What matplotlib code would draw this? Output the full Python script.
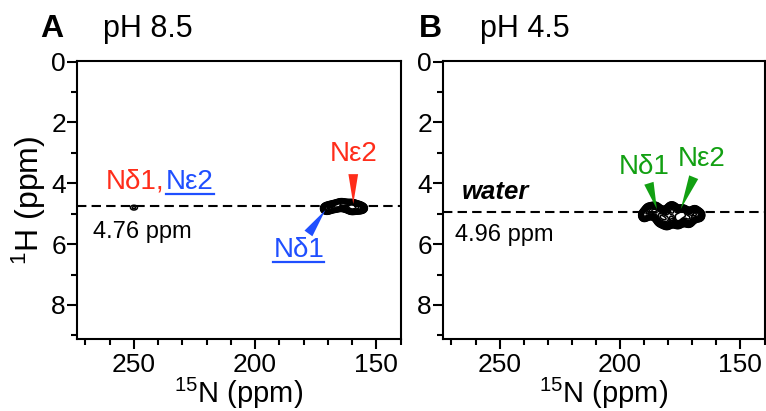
import numpy as np
import matplotlib
import matplotlib.pyplot as plt
from matplotlib.lines import Line2D

plt.rcParams['font.family'] = ['Liberation Sans', 'DejaVu Sans']
plt.rcParams['mathtext.fontset'] = 'custom'
plt.rcParams['mathtext.rm'] = 'Liberation Sans'

# --- data: peak lists (15N ppm, 1H ppm, relative height, widths) ---
peaksA_N = [250.0, 170.5, 168.5, 166.5, 164.5, 162.5, 160.0, 157.5, 155.8]
peaksA_H = [4.80, 4.83, 4.78, 4.75, 4.70, 4.74, 4.78, 4.80, 4.82]
peaksA_I = [0.062, 0.45, 0.35, 0.40, 0.45, 0.55, 1.00, 0.55, 0.30]
peaksA_wN = [2.2, 1.2, 1.2, 1.2, 1.2, 1.2, 1.3, 1.2, 1.1]
peaksA_wH = [0.12, 0.09, 0.09, 0.09, 0.09, 0.09, 0.10, 0.09, 0.08]

peaksB_N = [190.0, 188.0, 185.5, 183.0, 180.5, 178.5, 176.0, 174.0, 171.5, 169.0, 167.0]
peaksB_H = [5.05, 4.92, 4.90, 5.10, 5.20, 4.90, 5.15, 5.00, 5.15, 5.00, 5.05]
peaksB_I = [0.40, 0.50, 0.70, 0.80, 0.70, 0.90, 1.00, 0.85, 0.70, 0.55, 0.35]
peaksB_wN = [1.1, 1.3, 1.3, 1.4, 1.4, 1.3, 1.4, 1.3, 1.3, 1.2, 1.1]
peaksB_wH = [0.10, 0.12, 0.12, 0.14, 0.14, 0.12, 0.14, 0.12, 0.13, 0.12, 0.10]

water_A = 4.76
water_B = 4.96
titles = ['pH 8.5', 'pH 4.5']
panel_letters = ['A', 'B']

red = '#ff2d1a'
blue = '#1f4fff'
green = '#12a012'

fig = plt.figure(figsize=(7.66, 4.11), dpi=100)
axA = fig.add_axes([77/766, 72/411, 324/766, 278/411])
axB = fig.add_axes([443/766, 72/411, 322/766, 278/411])

gN = np.arange(140, 276, 0.1)
gH = np.arange(3.8, 6.0, 0.005)
NN, HH = np.meshgrid(gN, gH)


def spectrum(pn, ph, pi, wn, wh):
    z = np.zeros_like(NN)
    for n, h, a, sn, sh in zip(pn, ph, pi, wn, wh):
        z += a * np.exp(-((NN - n) / sn) ** 2 / 2 - ((HH - h) / sh) ** 2 / 2)
    return z


levels = np.geomspace(0.05, 0.9, 18)
for ax, pk, w in [
        (axA, (peaksA_N, peaksA_H, peaksA_I, peaksA_wN, peaksA_wH), water_A),
        (axB, (peaksB_N, peaksB_H, peaksB_I, peaksB_wN, peaksB_wH), water_B)]:
    ax.contour(gN, gH, spectrum(*pk), levels=levels,
               colors='black', linewidths=1.1)
    ax.axhline(w, color='black', lw=1.5, ls=(0, (4.5, 2.5)), zorder=1)
    ax.set_xlim(273.5, 139.8)
    ax.set_ylim(9.12, -0.02)
    ax.set_xticks([250, 200, 150])
    ax.set_xticks(np.arange(140, 275, 10), minor=True)
    ax.set_yticks([0, 2, 4, 6, 8])
    ax.set_yticks([1, 3, 5, 7, 9], minor=True)
    ax.tick_params(which='both', direction='out', width=1.5, labelsize=19)
    ax.tick_params(axis='x', pad=3)
    ax.tick_params(axis='y', pad=1)
    ax.tick_params(which='major', length=7)
    ax.tick_params(which='minor', length=4.5)
    for s in ax.spines.values():
        s.set_linewidth(1.5)
    ax.set_xlabel(r'$\mathregular{^{15}}$N (ppm)', fontsize=21, labelpad=-1)

axA.set_ylabel(r'$\mathregular{^{1}}$H (ppm)', fontsize=23, labelpad=2)

arrow = dict(arrowstyle='wedge,tail_width=0.35,shrink_factor=0.5',
             shrinkA=0, shrinkB=0, mutation_scale=20, lw=0)

# panel A labels
axA.text(159.5, 3.05, 'N\u03b52', color=red, fontsize=20, ha='center', va='center')
axA.annotate('', xy=(159.5, 4.68), xytext=(159.5, 3.7),
             arrowprops=dict(arrow, color=red))
tA1 = axA.text(182, 6.2, 'N\u03b41', color=blue, fontsize=20, ha='center', va='center')
axA.annotate('', xy=(171, 4.88), xytext=(178, 5.65),
             arrowprops=dict(arrow, color=blue))
axA.text(237.3, 3.95, 'N\u03b41,', color=red, fontsize=20, ha='right', va='center')
tA2 = axA.text(236.8, 3.95, 'N\u03b52', color=blue, fontsize=20, ha='left', va='center')
axA.text(266.9, 5.6, '4.76 ppm', fontsize=17, ha='left', va='center')

# panel B labels
axB.text(190, 3.45, 'N\u03b41', color=green, fontsize=20, ha='center', va='center')
axB.text(166, 3.2, 'N\u03b52', color=green, fontsize=20, ha='center', va='center')
axB.annotate('', xy=(184.7, 4.85), xytext=(188, 4.0),
             arrowprops=dict(arrow, color=green))
axB.annotate('', xy=(174.8, 4.85), xytext=(169.4, 3.8),
             arrowprops=dict(arrow, color=green))
axB.text(265.6, 4.3, 'water', fontsize=18.5, fontweight='bold', style='italic',
         ha='left', va='center')
axB.text(268.5, 5.7, '4.96 ppm', fontsize=17, ha='left', va='center')

# panel titles
for x0, x1, letter, t in [(40, 103, panel_letters[0], titles[0]),
                          (419, 480, panel_letters[1], titles[1])]:
    fig.text(x0/766, 1 - 29/411, letter, fontsize=23, fontweight='bold', va='center')
    fig.text(x1/766, 1 - 29/411, t, fontsize=22, va='center')

# underline blue labels
fig.canvas.draw()
r = fig.canvas.get_renderer()
inv = fig.transFigure.inverted()
for t in [tA1, tA2]:
    bb = t.get_window_extent(r)
    (fx0, fy), (fx1, _) = inv.transform([(bb.x0, bb.y0 + 1), (bb.x1, bb.y0 + 1)])
    fig.add_artist(Line2D([fx0, fx1], [fy, fy], color=blue, lw=1.6,
                          transform=fig.transFigure))

fig.savefig('out.png', dpi=100)
